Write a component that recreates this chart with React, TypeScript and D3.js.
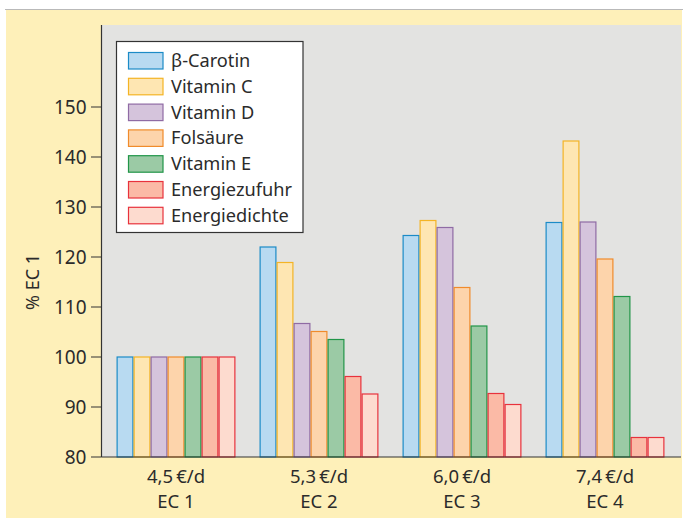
import React from "react";
import * as d3 from "d3";

const categories = ["4,5\u2009€/d", "5,3\u2009€/d", "6,0\u2009€/d", "7,4\u2009€/d"];
const subLabels = ["EC 1", "EC 2", "EC 3", "EC 4"];
const seriesNames = ["β-Carotin", "Vitamin C", "Vitamin D", "Folsäure", "Vitamin E", "Energiezufuhr", "Energiedichte"];
const betaCarotin = [100, 122, 124.3, 126.9];
const vitaminC = [100, 118.9, 127.3, 143.2];
const vitaminD = [100, 106.7, 125.9, 127];
const folsaeure = [100, 105.1, 113.9, 119.6];
const vitaminE = [100, 103.5, 106.2, 112.1];
const energiezufuhr = [100, 96.1, 92.7, 83.9];
const energiedichte = [100, 92.6, 90.5, 83.9];
const yTicks = [80, 90, 100, 110, 120, 130, 140, 150];

const seriesValues = [betaCarotin, vitaminC, vitaminD, folsaeure, vitaminE, energiezufuhr, energiedichte];
const fills = ["#b8daf1", "#fee6b2", "#d5c4dc", "#fdd4ab", "#9bcaa5", "#fbbaa6", "#fddbcf"];
const strokes = ["#1b8bc7", "#f4b425", "#8f6ba4", "#f08b2b", "#219548", "#e8323c", "#e8323c"];

const FONT = "'Noto Sans', sans-serif";
const TEXT = "#2b2b2b";

export default function App() {
  const plotLeft = 101.5;
  const plotRight = 681;
  const plotTop = 25;
  const plotBottom = 457;

  const y = d3.scaleLinear().domain([80, 150]).range([plotBottom, 107]);
  const x0 = d3.scaleBand<number>().domain(d3.range(categories.length)).range([104.5, 676.5]).paddingInner(0.168).paddingOuter(0.084);
  const x1 = d3.scaleBand<number>().domain(d3.range(seriesNames.length)).range([0, x0.bandwidth()]);

  return (
    <svg width={683} height={518} style={{ position: "absolute", left: 0, top: 0 }} fontFamily={FONT}>
      <rect x={0} y={0} width={683} height={518} fill="#ffffff" />
      <rect x={6} y={10} width={676} height={508} fill="#fef0b9" />
      <line x1={5} x2={683} y1={9.5} y2={9.5} stroke="#b9b9b9" strokeWidth={1} />
      <rect x={plotLeft} y={plotTop} width={plotRight - plotLeft} height={plotBottom - plotTop} fill="#e3e3e1" />

      {categories.map((c, i) => (
        <g key={c}>
          {seriesValues.map((vals, s) => {
            const bx = (x0(i) as number) + (x1(s) as number);
            const top = y(vals[i]);
            return (
              <rect
                key={s}
                x={bx + 0.6}
                y={top}
                width={x1.bandwidth() - 1.2}
                height={plotBottom - top}
                fill={fills[s]}
                stroke={strokes[s]}
                strokeWidth={1.2}
              />
            );
          })}
          <text x={(x0(i) as number) + x0.bandwidth() / 2} y={483} textAnchor="middle" fontSize={18.5} fill={TEXT}>
            {c}
          </text>
          <text x={(x0(i) as number) + x0.bandwidth() / 2} y={508} textAnchor="middle" fontSize={18.5} fill={TEXT}>
            {subLabels[i]}
          </text>
        </g>
      ))}

      <line x1={plotLeft} x2={plotLeft} y1={plotTop} y2={plotBottom} stroke="#333" strokeWidth={1.2} />
      <line x1={plotLeft} x2={plotRight} y1={plotBottom} y2={plotBottom} stroke="#333" strokeWidth={1.2} />
      {yTicks.map((t) => (
        <g key={t}>
          <line x1={91} x2={plotLeft} y1={y(t)} y2={y(t)} stroke="#333" strokeWidth={1} />
          <text x={86.5} y={y(t)} dy="0.36em" textAnchor="end" fontSize={19} fill={TEXT}>
            {t}
          </text>
        </g>
      ))}
      <text transform="translate(39,282) rotate(-90)" textAnchor="middle" fontSize={18} fill={TEXT}>
        % EC 1
      </text>

      <rect x={116.5} y={41.5} width={186.5} height={191} fill="#ffffff" stroke="#333" strokeWidth={1.2} />
      {seriesNames.map((n, s) => (
        <g key={n} transform={`translate(0, ${52 + s * 25.8})`}>
          <rect x={128.5} y={0.5} width={34.5} height={16.5} fill={fills[s]} stroke={strokes[s]} strokeWidth={1.2} />
          <text x={171} y={15} fontSize={18.2} fill={TEXT}>
            {n}
          </text>
        </g>
      ))}
    </svg>
  );
}
